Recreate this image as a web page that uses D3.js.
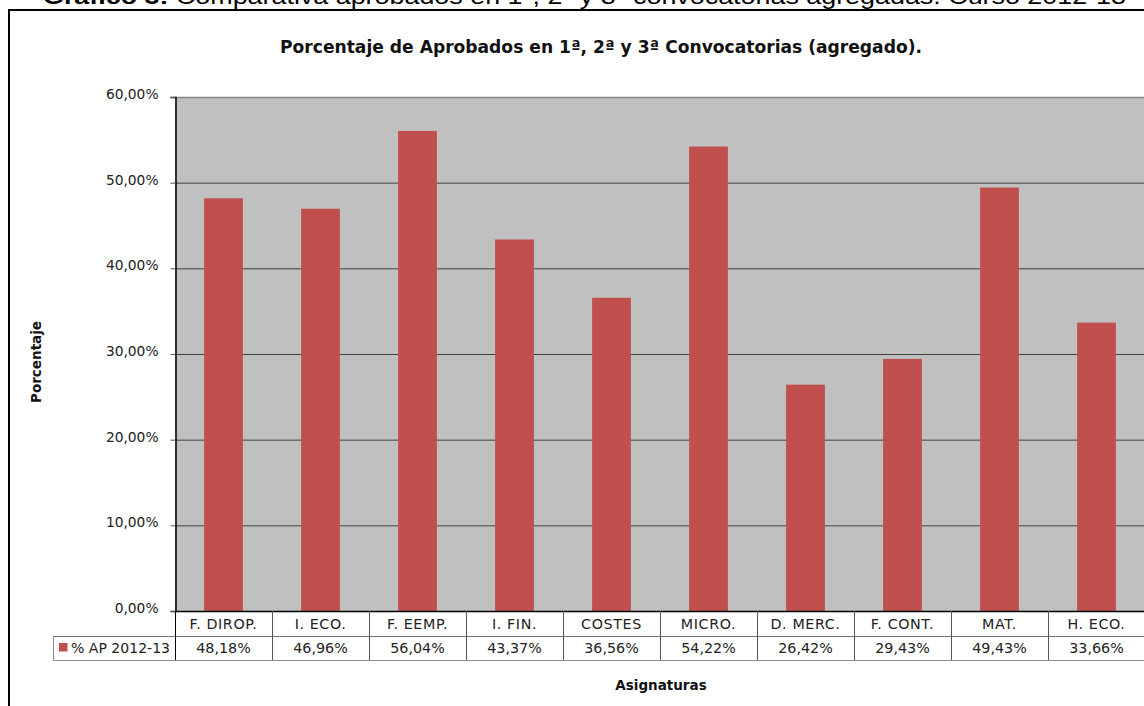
<!DOCTYPE html>
<html>
<head>
<meta charset="utf-8">
<script src="https://cdn.jsdelivr.net/npm/d3@7"></script>
<style>
  html, body { margin: 0; padding: 0; background: #fff; }
  svg { display: block; }
</style>
</head>
<body>
<svg id="chart" width="1144" height="706"></svg>
<script>
// Subjects and pass rates (1st, 2nd and 3rd sittings combined), course 2012-13
const categories = ["F. DIROP.", "I. ECO.", "F. EEMP.", "I. FIN.", "COSTES", "MICRO.", "D. MERC.", "F. CONT.", "MAT.", "H. ECO."];
const passRate = [48.18, 46.96, 56.04, 43.37, 36.56, 54.22, 26.42, 29.43, 49.43, 33.66];
const seriesName = "% AP 2012-13";
const yTicks = [0, 10, 20, 30, 40, 50, 60];

const svg = d3.select("#chart");
const font = "'DejaVu Sans', sans-serif";

const esLocale = d3.formatLocale({ decimal: ",", thousands: ".", grouping: [3], currency: ["", " €"] });
const pct = v => esLocale.format(".2f")(v) + "%";

// Plot geometry
const plot = { left: 175, top: 97, bottom: 611, bandW: 97 };
const x = d3.scaleBand().domain(categories)
  .range([plot.left, plot.left + plot.bandW * categories.length]).paddingInner(0.6).paddingOuter(0.3);
const xCell = d3.scaleBand().domain(categories)
  .range([plot.left, plot.left + plot.bandW * categories.length]);
const y = d3.scaleLinear().domain([0, 60]).range([plot.bottom, plot.top]);

// Document caption line above the chart frame
svg.append("text")
  .attr("x", 43).attr("y", 4)
  .attr("font-family", "'Liberation Sans', Arial, sans-serif")
  .attr("font-size", 22)
  .attr("textLength", 1083).attr("lengthAdjust", "spacingAndGlyphs")
  .call(t => {
    t.append("tspan").attr("font-weight", "bold").text("Gráfico 3:");
    t.append("tspan").text(" Comparativa aprobados en 1ª, 2ª y 3ª convocatorias agregadas. Curso 2012-13");
  });

// Chart frame
svg.append("rect")
  .attr("x", 9).attr("y", 10).attr("width", 1150).attr("height", 710)
  .attr("fill", "none").attr("stroke", "#000").attr("stroke-width", 2);

// Plot background
const plotRight = plot.left + plot.bandW * categories.length;
svg.append("rect")
  .attr("x", plot.left).attr("y", plot.top)
  .attr("width", plotRight - plot.left).attr("height", plot.bottom - plot.top)
  .attr("fill", "#C0C0C0");

// Gridlines
svg.append("g").selectAll("line")
  .data(yTicks.filter(d => d > 0 && d < 60))
  .join("line")
  .attr("x1", plot.left).attr("x2", plotRight)
  .attr("y1", d => y(d) + 0.5).attr("y2", d => y(d) + 0.5)
  .attr("stroke", "#404040").attr("stroke-width", 1);
svg.append("line")
  .attr("x1", plot.left).attr("x2", plotRight)
  .attr("y1", y(60) + 0.5).attr("y2", y(60) + 0.5)
  .attr("stroke", "#868686").attr("stroke-width", 1.5);

// Bars
svg.append("g").selectAll("rect")
  .data(categories)
  .join("rect")
  .attr("x", d => x(d))
  .attr("width", x.bandwidth())
  .attr("y", (d, i) => y(passRate[i]))
  .attr("height", (d, i) => y(0) - y(passRate[i]))
  .attr("fill", "#C0504D");

// Y axis
const yAxis = d3.axisLeft(y).tickValues(yTicks).tickSize(5).tickPadding(12)
  .tickFormat(d => pct(d));
const gy = svg.append("g").attr("transform", `translate(${plot.left + 0.5},0)`).call(yAxis);
gy.select(".domain").attr("stroke", "#000").attr("stroke-width", 1.5);
gy.selectAll(".tick line").attr("stroke", "#555");
gy.selectAll(".tick text")
  .attr("font-family", font).attr("font-size", 13.8).attr("fill", "#222")
  .attr("dy", "0.1em");

// Data table under the plot
const row1 = { top: 611, bottom: 636 };
const row2 = { top: 636, bottom: 660 };
const table = svg.append("g");
const lineColor = "#707070";

table.append("line")
  .attr("x1", plot.left).attr("x2", plotRight)
  .attr("y1", plot.bottom + 0.5).attr("y2", plot.bottom + 0.5)
  .attr("stroke", "#000").attr("stroke-width", 1.5);
table.append("line")
  .attr("x1", 53).attr("x2", plotRight)
  .attr("y1", row2.top + 0.5).attr("y2", row2.top + 0.5)
  .attr("stroke", lineColor);
table.append("line")
  .attr("x1", 53).attr("x2", plotRight)
  .attr("y1", row2.bottom + 0.5).attr("y2", row2.bottom + 0.5)
  .attr("stroke", "#909090");
table.append("line")
  .attr("x1", 53.5).attr("x2", 53.5)
  .attr("y1", row2.top).attr("y2", row2.bottom)
  .attr("stroke", "#909090");
table.selectAll("line.div")
  .data(categories.concat(["end"]))
  .join("line")
  .attr("class", "div")
  .attr("x1", (d, i) => plot.left + i * plot.bandW + 0.5)
  .attr("x2", (d, i) => plot.left + i * plot.bandW + 0.5)
  .attr("y1", row1.top).attr("y2", row2.bottom)
  .attr("stroke", (d, i) => i === 0 ? "#000" : "#555");

table.selectAll("text.cat")
  .data(categories)
  .join("text")
  .attr("class", "cat")
  .attr("x", d => xCell(d) + xCell.bandwidth() / 2)
  .attr("y", 629)
  .attr("text-anchor", "middle")
  .attr("font-family", font).attr("font-size", 14.3).attr("fill", "#222")
  .attr("letter-spacing", 0.6)
  .text(d => d);

table.selectAll("text.val")
  .data(passRate)
  .join("text")
  .attr("class", "val")
  .attr("x", (d, i) => xCell(categories[i]) + xCell.bandwidth() / 2)
  .attr("y", 653)
  .attr("text-anchor", "middle")
  .attr("font-family", font).attr("font-size", 14.3).attr("fill", "#222")
  .text(d => pct(d));

// Legend key inside the table
table.append("rect")
  .attr("x", 59).attr("y", 643).attr("width", 8.5).attr("height", 8.5)
  .attr("fill", "#C0504D");
table.append("text")
  .attr("x", 71).attr("y", 653)
  .attr("font-family", font).attr("font-size", 14.3).attr("fill", "#222")
  .attr("textLength", 99).attr("lengthAdjust", "spacingAndGlyphs")
  .text(seriesName);

// Titles
svg.append("text")
  .attr("x", 601).attr("y", 53)
  .attr("text-anchor", "middle")
  .attr("font-family", font).attr("font-size", 17.5).attr("font-weight", "bold").attr("fill", "#111")
  .attr("textLength", 642).attr("lengthAdjust", "spacingAndGlyphs")
  .text("Porcentaje de Aprobados en 1ª, 2ª y 3ª Convocatorias (agregado).");

svg.append("text")
  .attr("x", 661).attr("y", 690)
  .attr("text-anchor", "middle")
  .attr("font-family", font).attr("font-size", 13.5).attr("font-weight", "bold").attr("fill", "#111")
  .text("Asignaturas");

svg.append("text")
  .attr("transform", "translate(41,362) rotate(-90)")
  .attr("text-anchor", "middle")
  .attr("font-family", font).attr("font-size", 13.5).attr("font-weight", "bold").attr("fill", "#111")
  .text("Porcentaje");
</script>
</body>
</html>
